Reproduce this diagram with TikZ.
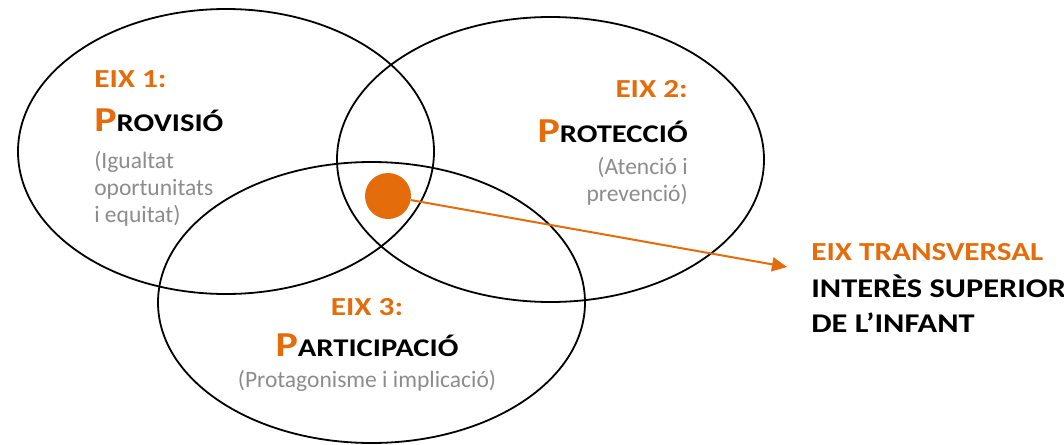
\documentclass[tikz,border=0pt]{standalone}
\usepackage{fontspec}
\setmainfont{Carlito}[FakeStretch=1.2]
\newfontfamily\grisfont{Carlito}
\usetikzlibrary{shapes.geometric, arrows.meta, positioning}

\definecolor{taronja}{HTML}{E46C0A}
\definecolor{gris}{HTML}{8C8C8C}

\tikzset{
  eix/.style = {draw = black, ellipse, line width = 1.8pt, inner sep = 0pt},
  capcal/.style = {inner sep = 0pt, text = taronja, font = \fontsize{26}{30}\selectfont\bfseries},
  nomeix/.style = {inner sep = 0pt, font = \fontsize{25.5}{30}\selectfont\bfseries},
  detall/.style = {inner sep = 0pt, text = gris, font = \grisfont\fontsize{23.5}{26}\selectfont}
}
% first letter big and orange, the rest as it comes
\newcommand{\inicial}[1]{{\fontsize{35}{40}\selectfont\color{taronja}#1}}

\begin{document}
\begin{tikzpicture}[
    x = 1pt, y = -1pt, % pixel grid, y downwards
    > = {Triangle[length = 15pt, width = 14pt]},
    semithick
  ]
  \useasboundingbox (0,0) rectangle (1064,444);

  % the three axes
  \node (provisio) [eix, minimum width = 416pt, minimum height = 285pt] at (226,151.5) {};
  \node (proteccio) [eix, minimum width = 427pt, minimum height = 285pt] at (550.5,159.5) {};
  \node (participacio) [eix, minimum width = 427pt, minimum height = 281pt] at (371.5,302.5) {};

  % eix 1
  \node (cap1) [capcal, anchor = base west] at (94,87) {EIX 1:};
  \node (nom1) [nomeix, anchor = base west] at (94,131) {\inicial{P}ROVISIÓ};
  \node (det1a) [detall, anchor = base west] at (94,168) {(Igualtat};
  \node (det1b) [detall, anchor = base west] at (94,195) {oportunitats};
  \node (det1c) [detall, anchor = base west] at (94,222) {i equitat)};

  % eix 2
  \node (cap2) [capcal, anchor = base east] at (688,97) {EIX 2:};
  \node (nom2) [nomeix, anchor = base east] at (688,142) {\inicial{P}ROTECCIÓ};
  \node (det2a) [detall, anchor = base east] at (688,174) {(Atenció i};
  \node (det2b) [detall, anchor = base east] at (688,201) {prevenció)};

  % eix 3
  \node (cap3) [capcal, anchor = base] at (367,315) {EIX 3:};
  \node (nom3) [nomeix, anchor = base] at (367,356) {\inicial{P}ARTICIPACIÓ};
  \node (det3) [detall, anchor = base] at (367,387) {(Protagonisme i implicació)};

  % eix transversal
  \node (nucli) [circle, fill = taronja, inner sep = 0pt, minimum size = 46pt] at (388,196) {};
  \node (trans1) [capcal, anchor = base west] at (811,260) {EIX TRANSVERSAL};
  \node (trans2) [nomeix, font = \fontsize{27}{30}\selectfont\bfseries, anchor = base west] at (811,297) {INTERÈS SUPERIOR};
  \node (trans3) [nomeix, font = \fontsize{27}{30}\selectfont\bfseries, anchor = base west] at (811,332) {DE L’INFANT};
  \coordinate (fi) at (787,267);

  \draw[->, taronja, line width = 2pt] (nucli) -- (fi);

\end{tikzpicture}
\end{document}
